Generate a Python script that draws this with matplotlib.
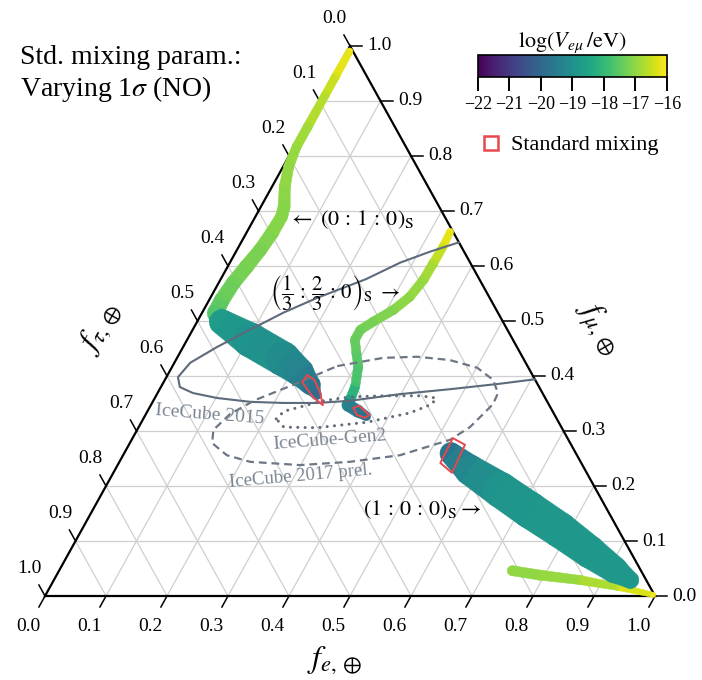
import numpy as np
import matplotlib
matplotlib.use('Agg')
import matplotlib.pyplot as plt
from matplotlib.collections import PolyCollection
from matplotlib.lines import Line2D
from matplotlib.patches import Polygon
from matplotlib import colors, cm

plt.rcParams['font.family'] = ['Liberation Serif', 'DejaVu Serif']
plt.rcParams['mathtext.fontset'] = 'stix'

H = np.sqrt(3) / 2

# flavour-ratio tracks: (f_e, f_mu) along each track, log10(V_emu / eV), band width [px]
s010_fe = [0.004, 0.004, 0.004, 0.004, 0.004, 0.009, 0.021, 0.038, 0.043, 0.042, 0.038,
           0.031, 0.024, 0.021, 0.022, 0.041, 0.103, 0.175, 0.214, 0.243, 0.262]
s010_fmu = [0.990, 0.944, 0.911, 0.853, 0.817, 0.781, 0.744, 0.708, 0.690, 0.660, 0.629,
            0.599, 0.569, 0.538, 0.514, 0.498, 0.466, 0.431, 0.407, 0.384, 0.366]
s010_logv = [-16.1, -16.4, -16.6, -16.8, -16.9, -17.0, -17.0, -17.1, -17.1, -17.1, -17.2,
             -17.2, -17.3, -17.4, -17.6, -18.7, -18.9, -19.1, -19.3, -19.6, -19.9]
s010_w = [7, 8, 8, 9, 9, 10, 11, 12, 12, 13, 13, 14, 14, 15, 16, 25, 34, 34, 28, 20, 10]

s120_fe = [0.333, 0.335, 0.334, 0.333, 0.326, 0.311, 0.289, 0.275, 0.275, 0.290, 0.305,
           0.318, 0.322, 0.323, 0.345, 0.363]
s120_fmu = [0.662, 0.635, 0.605, 0.575, 0.544, 0.520, 0.499, 0.484, 0.466, 0.441, 0.417,
            0.381, 0.356, 0.347, 0.336, 0.327]
s120_logv = [-16.1, -16.4, -16.7, -16.9, -17.0, -17.1, -17.2, -17.3, -17.4, -17.5, -17.6,
             -17.8, -18.5, -19.3, -19.6, -19.8]
s120_w = [7, 8, 9, 9, 9, 9, 9, 9, 9, 9, 9, 9, 10, 12, 12, 9]

s100_fe = [0.536, 0.582, 0.650, 0.717, 0.784, 0.853, 0.911, 0.945]
s100_fmu = [0.259, 0.229, 0.193, 0.156, 0.120, 0.080, 0.047, 0.029]
s100_logv = [-19.7, -19.2, -18.9, -18.85, -18.8, -18.8, -18.8, -18.8]
s100_w = [22, 30, 35, 36, 35, 32, 26, 17]

s100b_fe = [0.743, 0.792, 0.863, 0.934, 0.996]
s100b_fmu = [0.046, 0.038, 0.029, 0.016, 0.002]
s100b_logv = [-17.0, -17.0, -16.9, -16.6, -16.1]
s100b_w = [10, 10, 9, 7, 5]

# standard-mixing regions
std_boxes = [
    ([0.229, 0.227, 0.258, 0.282, 0.265, 0.245], [0.402, 0.389, 0.362, 0.347, 0.371, 0.393]),
    ([0.334, 0.342, 0.367, 0.363, 0.347], [0.342, 0.346, 0.329, 0.324, 0.329]),
    ([0.525, 0.551, 0.555, 0.527], [0.287, 0.275, 0.224, 0.242]),
]

# IceCube contours
ic2015_fe = [0.357, 0.318, 0.279, 0.238, 0.175, 0.133, 0.094, 0.056, 0.026, 0.019, 0.031,
             0.058, 0.102, 0.160, 0.215, 0.271, 0.323, 0.398, 0.476, 0.553, 0.606]
ic2015_fmu = [0.643, 0.626, 0.606, 0.576, 0.542, 0.515, 0.484, 0.453, 0.424, 0.398, 0.380,
              0.369, 0.360, 0.353, 0.351, 0.351, 0.355, 0.367, 0.376, 0.386, 0.394]

gen2_fe = [0.218, 0.224, 0.279, 0.319, 0.372, 0.433, 0.461, 0.460, 0.432, 0.370, 0.293, 0.238, 0.218]
gen2_fmu = [0.322, 0.336, 0.355, 0.362, 0.364, 0.364, 0.360, 0.349, 0.333, 0.316, 0.306, 0.307, 0.322]

ic2017_fe = [0.270, 0.338, 0.393, 0.449, 0.501, 0.538, 0.558, 0.560, 0.553, 0.543, 0.522,
             0.454, 0.378, 0.299, 0.214, 0.170, 0.135, 0.125, 0.138, 0.166, 0.215, 0.270]
ic2017_fmu = [0.418, 0.433, 0.435, 0.429, 0.415, 0.393, 0.369, 0.349, 0.331, 0.307, 0.284,
              0.256, 0.244, 0.238, 0.244, 0.256, 0.278, 0.302, 0.331, 0.356, 0.384, 0.418]

cb_ticks = [-22, -21, -20, -19, -18, -17, -16]
tick_vals = np.round(np.arange(0, 1.01, 0.1), 1)

cmap = plt.get_cmap('viridis')
norm = colors.Normalize(vmin=-22, vmax=-16)
red = '#e8474c'


def tern(fe, fmu):
    fe = np.asarray(fe, float)
    fmu = np.asarray(fmu, float)
    return fe + fmu / 2, fmu * H


fig = plt.figure(figsize=(7.02, 6.8), dpi=100)
ax = fig.add_axes([0, 0, 1, 1])
ax.set_xlim(-0.0738, 1.0770)
ax.set_ylim(-0.13226, 0.93844)
ax.axis('off')

# grid
for v in tick_vals[1:-1]:
    for a, b in [((v, v), (0, 1 - v)), ((0, 1 - v), (v, v)), ((1 - v, 0), (0, 1 - v))]:
        x, y = tern(a, b)
        ax.plot(x, y, color='#cfcfcf', lw=0.9, zorder=1)

# frame
x, y = tern([0, 1, 0, 0], [0, 0, 1, 0])
ax.plot(x, y, color='k', lw=1.6, zorder=2, solid_joinstyle='miter')

tk = 0.02
for v in tick_vals:
    # f_e (bottom)
    x, y = tern([v, v], [0, -tk])
    ax.plot(x, y, color='k', lw=1.1, zorder=2)
    ax.text(*tern(v, -0.055), f'{v:.1f}', ha='center', va='center', fontsize=14)
    # f_tau (left)
    x, y = tern([0, -tk], [1 - v, 1 - v + tk])
    ax.plot(x, y, color='k', lw=1.1, zorder=2)
    ax.text(*tern(-0.05, 1 - v + 0.05), f'{v:.1f}', ha='center', va='center', fontsize=14)
    # f_mu (right)
    x, y = tern([1 - v, 1 - v + tk], [v, v])
    ax.plot(x, y, color='k', lw=1.1, zorder=2)
    ax.text(*tern(1 - v + 0.029, v), f'{v:.1f}', ha='left', va='center', fontsize=14)


def band(fe, fmu, logv, w, z):
    # variable-width stroke: trapezoids between points, discs at the joints
    x, y = tern(fe, fmu)
    P = ax.transData.transform(np.column_stack([x, y]))
    inv = ax.transData.inverted()
    r = np.asarray(w, float) / 2
    lv = np.asarray(logv, float)
    t = np.linspace(0, 2 * np.pi, 48)
    ring = np.column_stack([np.cos(t), np.sin(t)])
    polys, vals = [], []
    for i in range(len(P)):
        polys.append(inv.transform(P[i] + r[i] * ring))
        vals.append(lv[i])
        if i == len(P) - 1:
            break
        d = P[i + 1] - P[i]
        n = np.array([-d[1], d[0]]) / np.hypot(*d)
        quad = [P[i] + n * r[i], P[i + 1] + n * r[i + 1],
                P[i + 1] - n * r[i + 1], P[i] - n * r[i]]
        polys.append(inv.transform(np.array(quad)))
        vals.append((lv[i] + lv[i + 1]) / 2)
    c = cmap(norm(np.array(vals)))
    ax.add_collection(PolyCollection(polys, facecolors=c, edgecolors=c,
                                     linewidths=0.4, zorder=z))


band(s100b_fe, s100b_fmu, s100b_logv, s100b_w, 3)
band(s100_fe, s100_fmu, s100_logv, s100_w, 4)
band(s010_fe, s010_fmu, s010_logv, s010_w, 4)
band(s120_fe, s120_fmu, s120_logv, s120_w, 4)

# IceCube
x, y = tern(ic2015_fe, ic2015_fmu)
ax.plot(x, y, color='#5d6a7a', lw=1.5, zorder=5)
x, y = tern(ic2017_fe, ic2017_fmu)
ax.plot(x, y, color='#6c7684', lw=1.6, ls=(0, (3.5, 2.2)), zorder=5)
x, y = tern(gen2_fe, gen2_fmu)
ax.plot(x, y, color='#626b78', lw=2.2, ls=(0, (0.01, 2.4)), dash_capstyle='round', zorder=5)

for bfe, bfmu in std_boxes:
    x, y = tern(bfe, bfmu)
    ax.add_patch(Polygon(np.column_stack([x, y]), closed=True, fill=False,
                         edgecolor=red, lw=1.4, joinstyle='round', zorder=6))

grey = '#7b8692'
fig.text(0.299, 0.390, 'IceCube 2015', color=grey, fontsize=14, rotation=-4.5,
         ha='center', va='center', zorder=7)
fig.text(0.470, 0.353, 'IceCube-Gen2', color=grey, fontsize=14, rotation=4.5,
         ha='center', va='center', zorder=7)
fig.text(0.429, 0.300, 'IceCube 2017 prel.', color=grey, fontsize=13.5, rotation=5,
         ha='center', va='center', zorder=7)

fig.text(0.410, 0.6765, r'$\leftarrow\ (0\,:\,1\,:\,0)_\mathrm{S}$', fontsize=16, va='center')
fig.text(0.385, 0.569,
         r'$\left(\dfrac{1}{3}\,:\,\dfrac{2}{3}\,:\,0\right)_\mathrm{S}\ \rightarrow$',
         fontsize=15, va='center')
fig.text(0.517, 0.250, r'$(1\,:\,0\,:\,0)_\mathrm{S}\rightarrow$', fontsize=16, va='center')

fig.text(0.0285, 0.934, 'Std. mixing param.:\nVarying 1$\\sigma$ (NO)', fontsize=20,
         va='top', ha='left')

fig.text(0.142, 0.519, r'$f_{\tau,\oplus}$', fontsize=23, rotation=60, ha='center', va='center')
fig.text(0.852, 0.518, r'$f_{\mu,\oplus}$', fontsize=23, rotation=-60, ha='center', va='center')
fig.text(0.477, 0.029, r'$f_{e,\oplus}$', fontsize=23, ha='center', va='center')

# colour bar
cax = fig.add_axes([0.6809, 0.8868, 0.2692, 0.0324])
sm = cm.ScalarMappable(norm=norm, cmap=cmap)
cb = fig.colorbar(sm, cax=cax, orientation='horizontal', ticks=cb_ticks)
cb.ax.set_xticklabels([f'\u2212{abs(t)}' for t in cb_ticks])
cb.ax.tick_params(direction='out', length=10, width=1.4, labelsize=13, pad=4)
cb.outline.set_linewidth(1.2)
cax.set_title(r'$\log(V_{e\mu}\,/\mathrm{eV})$', fontsize=16, pad=5)

h = Line2D([], [], ls='none', marker='s', mfc='none', mec=red, mew=1.8, ms=10)
fig.legend(handles=[h], labels=['Standard mixing'], loc='center left',
           bbox_to_anchor=(0.683, 1 - 145 / 680), frameon=False, fontsize=16,
           handlelength=1.0, handletextpad=0.4, borderaxespad=0, borderpad=0)

fig.savefig('out.png', dpi=100)
